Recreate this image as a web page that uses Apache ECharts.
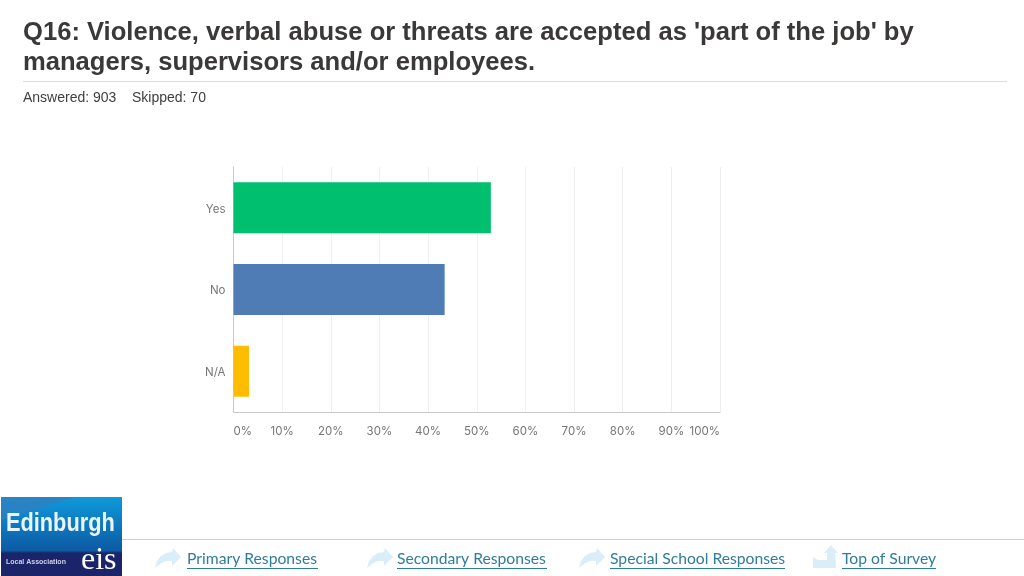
<!DOCTYPE html>
<html><head><meta charset="utf-8">
<style>html,body{margin:0;padding:0;background:#fff}#c{width:1024px;height:576px}</style>
<script src="https://cdn.jsdelivr.net/npm/echarts@6/dist/echarts.min.js"></script>
</head><body><div id="c"></div>
<script>
const categories = ['Yes', 'No', 'N/A'];
const values = [52.9, 43.4, 3.2];
const barColors = ['#00BF6F', '#507CB6', '#FFBC00'];
const xTicks = [0, 10, 20, 30, 40, 50, 60, 70, 80, 90, 100];
const titleLines = ["Q16: Violence, verbal abuse or threats are accepted as 'part of the job' by", "managers, supervisors and/or employees."];
const subtitleParts = ['Answered: 903', 'Skipped: 70'];
const links = ['Primary Responses', 'Secondary Responses', 'Special School Responses', 'Top of Survey'];

const chart = echarts.init(document.getElementById('c'), null, {renderer: 'canvas'});
const arrow = [[0,20],[2,13],[6,8],[11,5],[17,4],[18,0],[26,9],[17,18],[17,13],[11,13],[5,16]];
const upArrow = [[0,12],[5,15],[14,15],[14,8],[11,8],[18,0],[25,8],[22,8],[23,23],[0,23]];
function link(x, w, text, iconX, iconY, pts) {
  return [
    {type: 'polygon', x: iconX, y: iconY, shape: {points: pts}, style: {fill: '#D9EEF9'}},
    {type: 'text', x: x, y: 551, style: {text: text, font: '15.7px Lato', fill: '#2F7D9C'}},
    {type: 'rect', shape: {x: x, y: 568, width: w, height: 1}, style: {fill: '#2F7D9C'}}
  ];
}
const graphic = [
  {type: 'text', x: 23, y: 20, style: {text: titleLines[0], font: 'bold 25.6px "Liberation Sans"', fill: '#3B3838'}},
  {type: 'text', x: 23, y: 50, style: {text: titleLines[1], font: 'bold 25.6px "Liberation Sans"', fill: '#3B3838'}},
  {type: 'rect', shape: {x: 23, y: 81, width: 984, height: 1}, style: {fill: '#DDDDDD'}},
  {type: 'text', x: 23, y: 91, style: {text: subtitleParts[0], font: '14px "Liberation Sans"', fill: '#404040'}},
  {type: 'text', x: 132, y: 91, style: {text: subtitleParts[1], font: '14px "Liberation Sans"', fill: '#404040'}},
  {type: 'rect', shape: {x: 122, y: 539, width: 902, height: 1}, style: {fill: '#CFCFCF'}},
  {type: 'rect', shape: {x: 1, y: 497, width: 121, height: 79},
    style: {fill: new echarts.graphic.LinearGradient(0, 0, 0, 1, [
      {offset: 0, color: '#0E9ADB'}, {offset: 0.68, color: '#0D5AA3'}, {offset: 0.71, color: '#1B2468'}, {offset: 1, color: '#1B2468'}])}},
  {type: 'polygon', shape: {points: [[1,497],[75,497],[40,508],[1,520]]}, style: {fill: '#2F7FC0', opacity: 0.8}},
  {type: 'text', x: 6, y: 512, scaleX: 0.87, style: {text: 'Edinburgh', font: 'bold 25px "Liberation Sans"', fill: '#EAF4FA'}},
  {type: 'text', x: 6, y: 559, style: {text: 'Local Association', font: 'bold 7px "Liberation Sans"', fill: '#C9D3E6'}},
  {type: 'text', x: 81, y: 545, style: {text: 'eis', font: '32px "Liberation Serif"', fill: '#FFFFFF'}},
  ...link(187, 131, links[0], 155, 548, arrow),
  ...link(397, 150, links[1], 367, 548, arrow),
  ...link(610, 175, links[2], 579, 548, arrow),
  ...link(842, 94, links[3], 813, 545, upArrow)
];
chart.setOption({
  animation: false,
  backgroundColor: '#ffffff',
  graphic: graphic,
  grid: {left: 233.5, top: 167, width: 486.5, height: 245, containLabel: false},
  xAxis: {
    type: 'value', min: xTicks[0], max: xTicks[xTicks.length - 1], interval: 10,
    axisLine: {show: true, lineStyle: {color: '#C8C8C8', width: 1}},
    axisTick: {show: false},
    splitLine: {show: true, lineStyle: {color: '#EFEFEF', width: 1}},
    axisLabel: {formatter: '{value}%', color: '#767676', fontFamily: 'Inter', fontSize: 11.5, margin: 14,
      alignMinLabel: 'left', alignMaxLabel: 'right'}
  },
  yAxis: {
    type: 'category', inverse: true, data: categories,
    axisLine: {show: true, onZero: false, lineStyle: {color: '#C8C8C8', width: 1}},
    axisTick: {show: false},
    axisLabel: {margin: 8, formatter: '{a|{value}}',
      rich: {a: {color: '#767676', fontFamily: 'Inter', fontSize: 11.5, padding: [3, 0, 0, 0]}}}
  },
  series: [{
    type: 'bar', barWidth: 51, silent: true,
    data: values.map((v, i) => ({value: v, itemStyle: {color: barColors[i]}}))
  }]
});
</script></body></html>
